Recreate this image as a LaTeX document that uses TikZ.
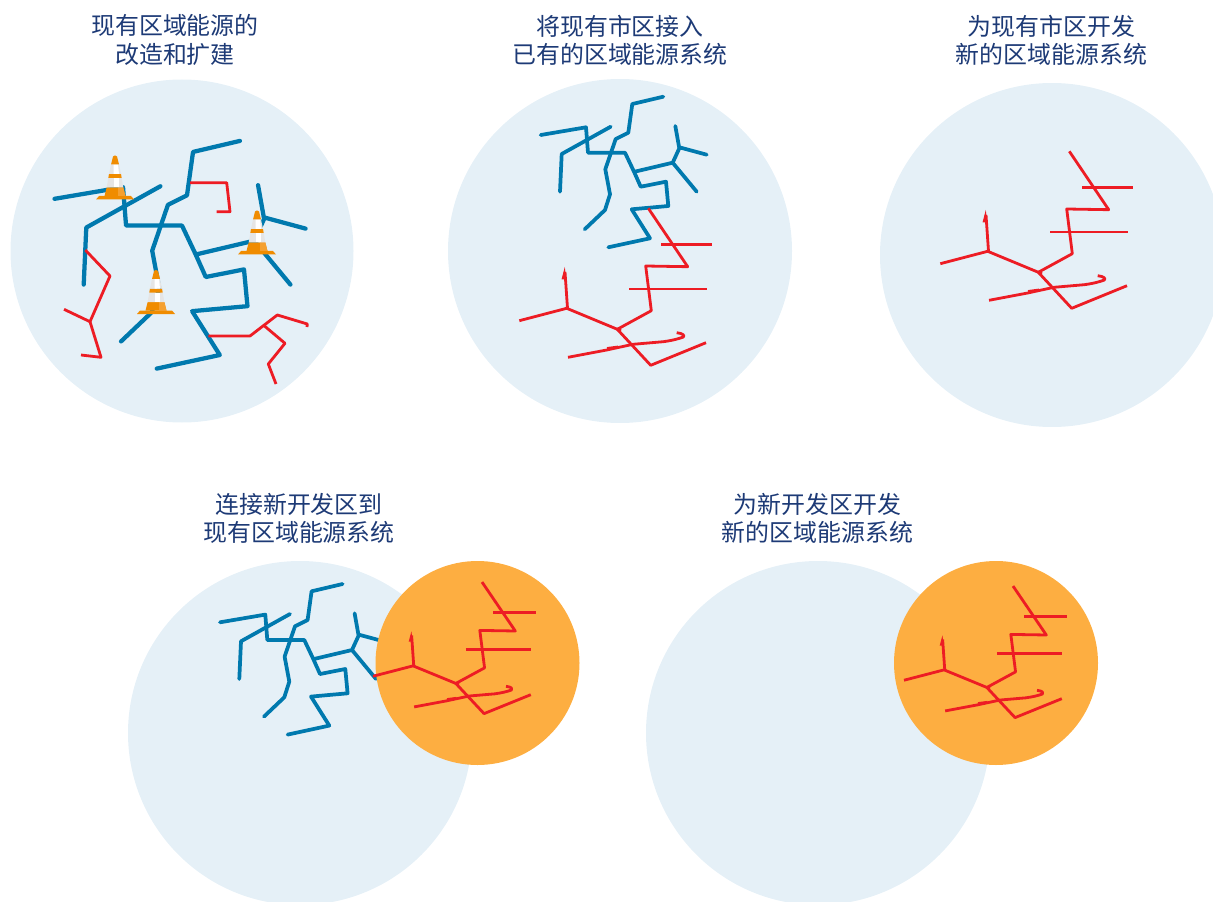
\documentclass[tikz,border=0pt]{standalone}
\usepackage{fontspec}
\setmainfont{Noto Sans CJK SC}
\usepackage{tikz}

\definecolor{areablue}{HTML}{E5F0F7}
\definecolor{newarea}{HTML}{FDAE41}
\definecolor{pipeblue}{HTML}{0079AE}
\definecolor{pipered}{HTML}{ED1C24}
\definecolor{headnavy}{HTML}{1D3A76}
\definecolor{coneorange}{HTML}{F08C00}
\definecolor{conelight}{HTML}{F5A030}

\tikzset{
    district/.style={fill=areablue},
    newdistrict/.style={fill=newarea},
    oldpipe/.style={draw=pipeblue,line width=2.8pt,line cap=round,line join=round},
    newpipe/.style={draw=pipered,line width=2.1pt,line join=round},
    headline/.style={text=headnavy,align=center,font=\fontsize{17.95}{21.4}\selectfont},
    safetycone/.pic={
        \fill [coneorange] (-19,.5) -- (19,.5) -- (16,-3) -- (-16,-3) -- cycle;
        \fill [coneorange] (-10.5,-3) -- (10.5,-3) -- (8.3,-11.5) -- (-8.3,-11.5) -- cycle;
        \fill [conelight] (3,-3) -- (10.5,-3) -- (8.3,-11.5) -- (3,-11.5) -- cycle;
        \fill [white!90!black] (-8.3,-11.5) -- (8.3,-11.5) -- (6.7,-21) -- (-6.7,-21) -- cycle;
        \fill [white] (-1.5,-11.5) -- (4,-11.5) -- (4,-21) -- (-1.5,-21) -- cycle;
        \fill [coneorange] (-6.7,-21) -- (6.7,-21) -- (6,-25) -- (-6,-25) -- cycle;
        \fill [white!90!black] (-6,-25) -- (6,-25) -- (4,-34.5) -- (-4,-34.5) -- cycle;
        \fill [white] (-1.5,-25) -- (4,-25) -- (3,-34.5) -- (-1.5,-34.5) -- cycle;
        \fill [coneorange] (-4,-34.5) -- (4,-34.5) -- (2,-42.5) to [out=110,in=70] (-2,-42.5) -- cycle;
    }
}

% the old network and the new one, both given once
\newcommand{\oldnet}{
    \draw [oldpipe] (540.7,135) -- (586,127.3) -- (588,152.7) -- (625,152.7) -- (634,171.7)
        -- (640.7,186.7) -- (666,181.7) -- (668.3,206) -- (631.7,209.3) -- (650,238.3) -- (608.3,247.3);
    \draw [oldpipe] (610.7,126.7) -- (561.7,154) -- (560,191.7);
    \draw [oldpipe] (663.3,96.7) -- (632.3,104) -- (628.3,132.7) -- (615.7,139) -- (605.3,169.3)
        -- (610,194.3) -- (605,210) -- (584.7,229.3);
    \draw [oldpipe] (634.7,171.7) -- (672.7,162.7) -- (679.3,148.3) -- (675.3,126);
    \draw [oldpipe] (679.3,147.3) -- (706.7,154.7);
    \draw [oldpipe] (672.7,162.7) -- (696.7,191.7);
}
\newcommand{\newnet}{
    \draw [newpipe] (648.3,208.3) -- (687.7,266.7) -- (645.7,266) -- (651.3,310.7) -- (617.3,329.3)
        -- (650.7,365.3) -- (706,342.7);
    \draw [newpipe] (661.3,244.3) -- (711.7,244.3);
    \draw [newpipe] (629.3,289) -- (706.7,289);
    \draw [newpipe] (621,330.8) -- (566.7,308.3) -- (519.3,320.7);
    \draw [newpipe] (567.5,308.3) -- (565,272);
    \fill [pipered] (561.5,279.5) -- (564.8,267) -- (566.2,279.5) -- cycle;
    \draw [newpipe] (568,357.3) -- (606.7,350) -- (633,344.3) -- (663.3,341.7)
        .. controls (672,340.5) and (678,339) .. (683.3,337)
        .. controls (685,335.5) and (683,333.5) .. (676.7,332.7);
    \draw [newpipe] (607,348.5) -- (618,347);
}

\begin{document}
\begin{tikzpicture}[x=.75pt,y=-.75pt]
    \clip (0,0) rectangle (1213,902);

    % top row
    \fill [district] (182,251) circle [radius=171.5];
    \fill [district] (620,251) circle [radius=172];
    \fill [district] (1052,255) circle [radius=172];

    \node [headline] (title1) at (175,40) {现有区域能源的\\改造和扩建};
    \node [headline] (title2) at (620,40.5) {将现有市区接入\\已有的区域能源系统};
    \node [headline] (title3) at (1051.5,40.5) {为现有市区开发\\新的区域能源系统};

    \begin{scope}[shift={(-763,-5.3)},scale=1.512]
        \tikzset{oldpipe/.append style={line width=3.2pt}}
        \oldnet
    \end{scope}
    \draw [newpipe] (85.3,250) -- (110,276) -- (90,321.7) -- (64,309.3);
    \draw [newpipe] (90,321.7) -- (101,357.3) -- (81,355);
    \draw [newpipe] (190,182.7) -- (226.7,182.7) -- (230,211.7) -- (216.7,211.7);
    \draw [newpipe] (208.3,336) -- (250,336) -- (277.3,315) -- (307.3,324) -- (307,327);
    \draw [newpipe] (263.3,325) -- (285,343.3) -- (268.3,364) -- (276,384);
    \path (115,199) pic {safetycone};
    \path (257,254) pic {safetycone};
    \path (156,313.5) pic {safetycone};

    \oldnet
    \newnet

    \begin{scope}[shift={(421,-57)}]
        \newnet
    \end{scope}

    % bottom row
    \fill [district] (300,733) circle [radius=172];
    \fill [district] (818,733) circle [radius=172];

    \node [headline] (title4) at (299,518.5) {连接新开发区到\\现有区域能源系统};
    \node [headline] (title5) at (817.5,518.5) {为新开发区开发\\新的区域能源系统};

    \begin{scope}[shift={(-320.7,487.3)}]
        \oldnet
    \end{scope}

    \fill [newdistrict] (477.5,663) circle [radius=102];
    \fill [newdistrict] (996,663) circle [radius=102];

    \begin{scope}[shift={(-65.8,407.5)},xscale=.845,yscale=.838]
        \newnet
    \end{scope}
    \begin{scope}[shift={(465.2,411.5)},xscale=.845,yscale=.838]
        \newnet
    \end{scope}
\end{tikzpicture}
\end{document}
